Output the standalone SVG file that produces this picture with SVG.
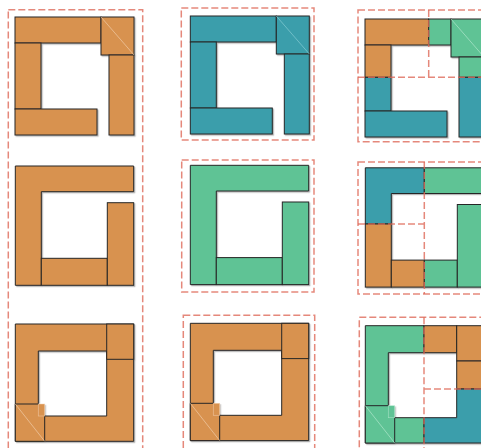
<svg xmlns="http://www.w3.org/2000/svg" width="481" height="448" viewBox="0 0 481 448">
<style>
.o{fill:#D8924F}
.t{fill:#3A9EAB}
.g{fill:#5EC395}
.s{stroke:#262626;stroke-width:1;stroke-linejoin:miter}
.diag{stroke:#F3D2B0;stroke-width:0.8;fill:none;opacity:0.8}
.diagg{stroke:#B9EAD2;stroke-width:0.8;fill:none;opacity:0.8}
.notch{stroke:#F3D2B0;stroke-width:0.7;fill:none;opacity:0.7}
.notchg{stroke:#B9EAD2;stroke-width:0.7;fill:none;opacity:0.7}
.dash{fill:none;stroke:#DE6A5A;stroke-width:1.5;stroke-dasharray:7 3;opacity:0.8}
</style>
<defs>
<filter id="sh" x="-10%" y="-10%" width="130%" height="130%">
<feDropShadow dx="1.2" dy="1.2" stdDeviation="0.4" flood-color="#000" flood-opacity="0.28"/>
</filter>
<g id="shapeA">
<rect x="15" y="17" width="86" height="26"/>
<rect x="101" y="17" width="33" height="38"/>
<rect x="15" y="43" width="26" height="66"/>
<rect x="15" y="109" width="82" height="26"/>
<rect x="109" y="55" width="25" height="80"/>
</g>
</defs>

<g id="p1" filter="url(#sh)">
<use href="#shapeA" class="o s"/>
<line class="diag" x1="101" y1="17" x2="134" y2="55"/>
</g>

<g id="p2" filter="url(#sh)" transform="translate(175.3,-1)">
<use href="#shapeA" class="t s"/>
<line class="diagg" x1="101" y1="17" x2="134" y2="55" style="stroke:#8FD0D8"/>
</g>

<g id="p3" filter="url(#sh)" class="s">
<rect class="o" x="365" y="19" width="63.7" height="26"/>
<rect class="g" x="428.7" y="19" width="22.3" height="26"/>
<rect class="g" x="451" y="19" width="35" height="38"/>
<rect class="o" x="365" y="45" width="26" height="32.3"/>
<rect class="t" x="365" y="77.3" width="26" height="33.7"/>
<rect class="t" x="365" y="111" width="82" height="26"/>
<rect class="g" x="459" y="57" width="27" height="20.3"/>
<rect class="t" x="459" y="77.3" width="27" height="59.7"/>
<line class="diagg" x1="451" y1="19" x2="484" y2="57"/>
</g>

<g id="p4" filter="url(#sh)" class="o s">
<polygon points="15.3,166 133.7,166 133.7,191.7 41.3,191.7 41.3,285.3 15.3,285.3"/>
<rect x="41.3" y="258.3" width="66" height="27"/>
<rect x="107.3" y="202.7" width="26.4" height="82.6"/>
</g>

<g id="p5" filter="url(#sh)" class="g s" transform="translate(175,-0.7)">
<polygon points="15.3,166 133.7,166 133.7,191.7 41.3,191.7 41.3,285.3 15.3,285.3"/>
<rect x="41.3" y="258.3" width="66" height="27"/>
<rect x="107.3" y="202.7" width="26.4" height="82.6"/>
</g>

<g id="p6" filter="url(#sh)" class="s">
<polygon class="t" points="365.3,167.8 424.3,167.8 424.3,193.5 391.3,193.5 391.3,224 365.3,224"/>
<rect class="g" x="424.3" y="167.8" width="62" height="25.7"/>
<rect class="o" x="365.3" y="224" width="26" height="63.1"/>
<rect class="o" x="391.3" y="260.1" width="33" height="27"/>
<rect class="g" x="424.3" y="260.1" width="33" height="27"/>
<rect class="g" x="457.3" y="204.5" width="29" height="82.6"/>
</g>

<g id="p7" filter="url(#sh)">
<path class="o s" fill-rule="evenodd" d="M15.3,324H133.7V441.3H15.3Z M38.3,351H106.7V416H38.3Z"/>
<rect class="o s" x="106.7" y="324" width="27" height="35.3"/>
<rect class="o" x="15.3" y="404" width="29.4" height="37.3"/>
<path fill="none" class="s" d="M15.3,404H38.3 M44.7,416V441.3 M15.3,404V441.3H44.7"/>
<rect class="notch" x="38.3" y="404" width="6.4" height="12"/>
<line class="diag" x1="15.3" y1="404" x2="44.7" y2="441.3"/>
</g>

<g id="p8" filter="url(#sh)" transform="translate(175,-0.7)">
<path class="o s" fill-rule="evenodd" d="M15.3,324H133.7V441.3H15.3Z M38.3,351H106.7V416H38.3Z"/>
<rect class="o s" x="106.7" y="324" width="27" height="35.3"/>
<rect class="o" x="15.3" y="404" width="29.4" height="37.3"/>
<path fill="none" class="s" d="M15.3,404H38.3 M44.7,416V441.3 M15.3,404V441.3H44.7"/>
<rect class="notch" x="38.3" y="404" width="6.4" height="12"/>
<line class="diag" x1="15.3" y1="404" x2="44.7" y2="441.3"/>
</g>

<g id="p9" filter="url(#sh)" class="s">
<polygon class="g" points="365.3,325.7 424,325.7 424,352.7 388.3,352.7 388.3,417.7 424,417.7 424,443 365.3,443"/>
<rect class="o" x="424" y="325.7" width="32.7" height="27"/>
<rect class="o" x="456.7" y="325.7" width="30" height="35.3"/>
<rect class="o" x="456.7" y="361" width="30" height="28"/>
<polygon class="t" points="456.7,389 486,389 486,443 424,443 424,417.7 456.7,417.7"/>
<rect class="g" x="365.3" y="405.7" width="29.4" height="37.3" style="stroke:none"/>
<path fill="none" d="M365.3,405.7H388.3 M394.7,417.7V443 M365.3,405.7V443H394.7"/>
<rect class="notchg" x="388.3" y="405.7" width="6.4" height="12"/>
<line class="diagg" x1="365.3" y1="405.7" x2="394.7" y2="443"/>
</g>

<g id="frames">
<rect class="dash" x="8.3" y="9.7" width="134.4" height="445"/>
<rect class="dash" x="181.3" y="8" width="132.7" height="132"/>
<rect class="dash" x="181.7" y="160" width="132.3" height="132"/>
<rect class="dash" x="183.3" y="315.3" width="131.4" height="140"/>
<rect class="dash" x="358" y="10" width="130" height="131.7"/>
<path class="dash" d="M428.7,10V77.3 M358,77.3H488"/>
<rect class="dash" x="358" y="162" width="130" height="132"/>
<path class="dash" d="M424.3,162V294 M358,224H424.3"/>
<rect class="dash" x="359.3" y="317.3" width="130" height="140"/>
<path class="dash" d="M424,317.3V448 M424,389H488"/>
</g>
</svg>
